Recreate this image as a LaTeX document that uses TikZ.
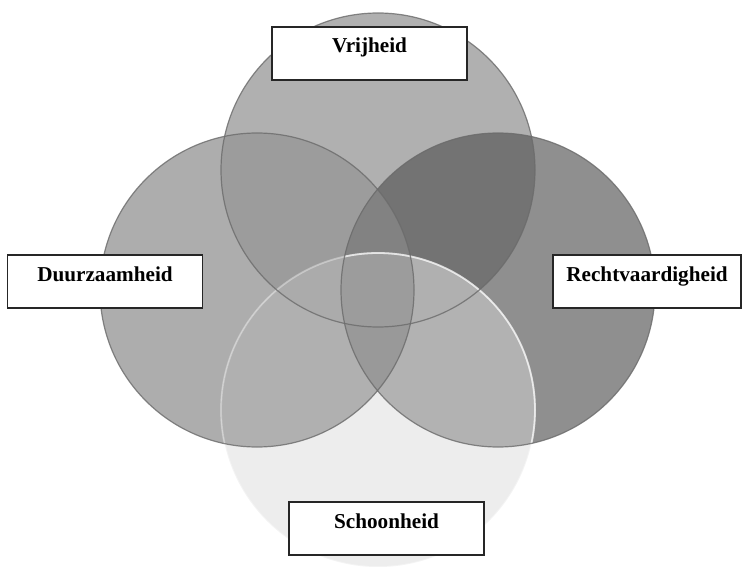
\documentclass[tikz,border=0pt]{standalone}
\usepackage{fontspec}
\setmainfont{Liberation Serif}
\usetikzlibrary{positioning}

% region shades
\definecolor{cT}{gray}{0.69}
\definecolor{cL}{gray}{0.68}
\definecolor{cR}{gray}{0.56}
\definecolor{cB}{gray}{0.93}
\definecolor{cTL}{gray}{0.61}
\definecolor{cTR}{gray}{0.45}
\definecolor{cLB}{gray}{0.69}
\definecolor{cRB}{gray}{0.70}
\definecolor{cTLR}{gray}{0.51}
\definecolor{cTLB}{gray}{0.67}
\definecolor{cTRB}{gray}{0.69}
\definecolor{cLRB}{gray}{0.60}
\definecolor{cAll}{gray}{0.61}
\definecolor{rim}{gray}{0.42}

\begin{document}
\begin{tikzpicture}[x=0.5pt,y=-0.5pt,
        labelbox/.style={draw=black!85,line width=0.75pt,fill=white,inner sep=0pt,
            minimum width=97.5pt,text height=13pt,text depth=13.5pt,
            font=\fontsize{10.6}{12}\selectfont\bfseries}]
    \useasboundingbox (0,0) rectangle (742,566);
    \coordinate (t) at (378,170);
    \coordinate (l) at (257,290);
    \coordinate (r) at (498,290);
    \coordinate (b) at (378,410);
    % single circles
    \foreach \c/\col in {t/cT,r/cR,l/cL,b/cB}
        \fill[\col] (\c) circle (157);
    % pairs
    \foreach \a/\c/\col in {t/l/cTL,t/r/cTR,l/b/cLB,r/b/cRB}{
        \begin{scope}
            \clip (\a) circle (157);
            \fill[\col] (\c) circle (157);
        \end{scope}}
    % triples
    \foreach \a/\b/\c/\col in {t/l/r/cTLR,t/l/b/cTLB,t/r/b/cTRB,l/r/b/cLRB}{
        \begin{scope}
            \clip (\a) circle (157);
            \clip (\b) circle (157);
            \fill[\col] (\c) circle (157);
        \end{scope}}
    \begin{scope}
        \clip (t) circle (157);
        \clip (l) circle (157);
        \clip (r) circle (157);
        \fill[cAll] (b) circle (157);
    \end{scope}
    % rims
    \draw[white,opacity=0.35,line width=0.9pt] (b) circle (157);
    \begin{scope}
        \clip (r) circle (157);
        \draw[white,opacity=0.6,line width=0.9pt] (b) circle (157);
    \end{scope}
    \foreach \c in {t,l,r}
        \draw[rim,opacity=0.8,line width=0.6pt] (\c) circle (157);
    % labels
    \node[labelbox] (vrij) at (369.5,53.5) {Vrijheid};
    \node[labelbox] (duur) at (105,281.5) {Duurzaamheid};
    \node[labelbox,minimum width=94pt] (recht) at (647,281.5) {Rechtvaardigheid};
    \node[labelbox] (schoon) at (386.5,528.5) {Schoonheid};
\end{tikzpicture}
\end{document}
